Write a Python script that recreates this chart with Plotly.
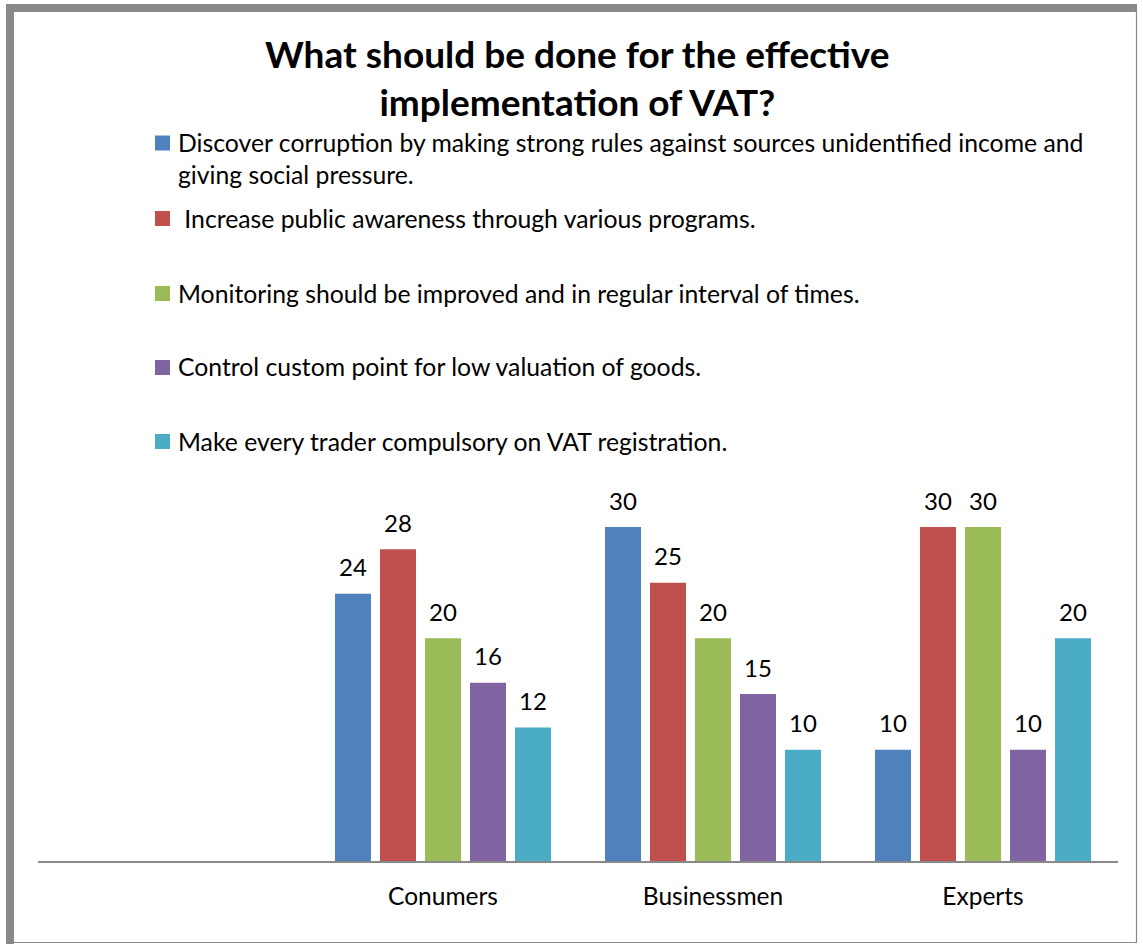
import plotly.graph_objects as go

# Survey groups and the share (%) choosing each recommendation
groups = ["Conumers", "Businessmen", "Experts"]
series_names = [
    "Discover corruption by making strong rules against sources unidentified income and<br>giving social pressure.",
    "\u00a0Increase public awareness through various programs.",
    "Monitoring should be improved and in regular interval of times.",
    "Control custom point for low valuation of goods.",
    "Make every trader compulsory on VAT registration.",
]
discover_corruption = [24, 30, 10]
public_awareness = [28, 25, 30]
monitoring = [20, 20, 30]
custom_point = [16, 15, 10]
vat_registration = [12, 10, 20]
series_values = [discover_corruption, public_awareness, monitoring, custom_point, vat_registration]
colors = ["#4F81BD", "#C0504D", "#9BBB59", "#8064A2", "#4BACC6"]

title_text = "What should be done for the effective<br>implementation of VAT?"

W, H = 1143, 944
L, R, T, B = 38, 1118, 461, 861  # plot area in pixels
FONT = "Lato"


def px_x(px):
    return (px - L) / (R - L)


def px_y(py):
    return (B - py) / (B - T)


fig = go.Figure()
for name, vals, col in zip(series_names, series_values, colors):
    fig.add_trace(go.Bar(name=name, x=groups, y=vals, marker=dict(color=col, line=dict(width=0)),
                         showlegend=False, hoverinfo="skip"))

# value labels above each bar
n = len(series_values)
slot = 270 * (1 - 1 / 6) / n
annotations = []
for i, vals in enumerate(series_values):
    for g, v in zip(groups, vals):
        annotations.append(dict(x=g, y=v, xref="x", yref="y", text=str(v), showarrow=False,
                                xshift=(i - (n - 1) / 2) * slot, yshift=27, yanchor="middle",
                                font=dict(family=FONT, size=24, color="#000000")))

# legend: swatches and labels
legend_rows = [143, 218.5, 293.5, 367.5, 441.5]
shapes = []
for name, col, yc in zip(series_names, colors, legend_rows):
    shapes.append(dict(type="rect", xref="paper", yref="paper",
                       x0=px_x(155), x1=px_x(170), y0=px_y(yc + 7.5), y1=px_y(yc - 7.5),
                       fillcolor=col, line=dict(width=0)))
    annotations.append(dict(x=px_x(176), y=px_y(yc - 17), xref="paper", yref="paper", text=name,
                            showarrow=False, xanchor="left", yanchor="top", align="left",
                            font=dict(family=FONT, size=24.75, color="#000000")))

# title
annotations.append(dict(x=px_x(577), y=px_y(29), xref="paper", yref="paper", text="<b>" + title_text + "</b>",
                        showarrow=False, xanchor="center", yanchor="top", align="center",
                        font=dict(family=FONT, size=37, color="#000000")))

# frame around the chart
border = "#898989"
shapes += [
    dict(type="rect", xref="paper", yref="paper", x0=px_x(6), x1=px_x(1137), y0=px_y(4), y1=px_y(12),
         fillcolor=border, line=dict(width=0)),
    dict(type="rect", xref="paper", yref="paper", x0=px_x(6), x1=px_x(14), y0=px_y(4), y1=px_y(944),
         fillcolor=border, line=dict(width=0)),
    dict(type="line", xref="paper", yref="paper", x0=px_x(1136.5), x1=px_x(1136.5), y0=px_y(12), y1=px_y(943),
         line=dict(color=border, width=1.2)),
    dict(type="line", xref="paper", yref="paper", x0=px_x(14), x1=px_x(1137), y0=px_y(942.5), y1=px_y(942.5),
         line=dict(color=border, width=1.2)),
]

fig.update_layout(
    width=W, height=H,
    margin=dict(l=L, r=W - R, t=T, b=H - B, pad=0),
    paper_bgcolor="white", plot_bgcolor="white",
    barmode="group", bargap=1 / 6, bargroupgap=0.2,
    xaxis=dict(type="category", range=[-1.5, 2.5], showline=True, linecolor="#898989", linewidth=1.6,
               showgrid=False, zeroline=False, ticks="", ticklabelstandoff=13,
               tickfont=dict(family=FONT, size=24.5, color="#000000"), fixedrange=True),
    yaxis=dict(visible=False, range=[0, (B - T) / (334 / 30)], showgrid=False, zeroline=False, fixedrange=True),
    annotations=annotations,
    shapes=shapes,
)

fig.write_html("out.html")
